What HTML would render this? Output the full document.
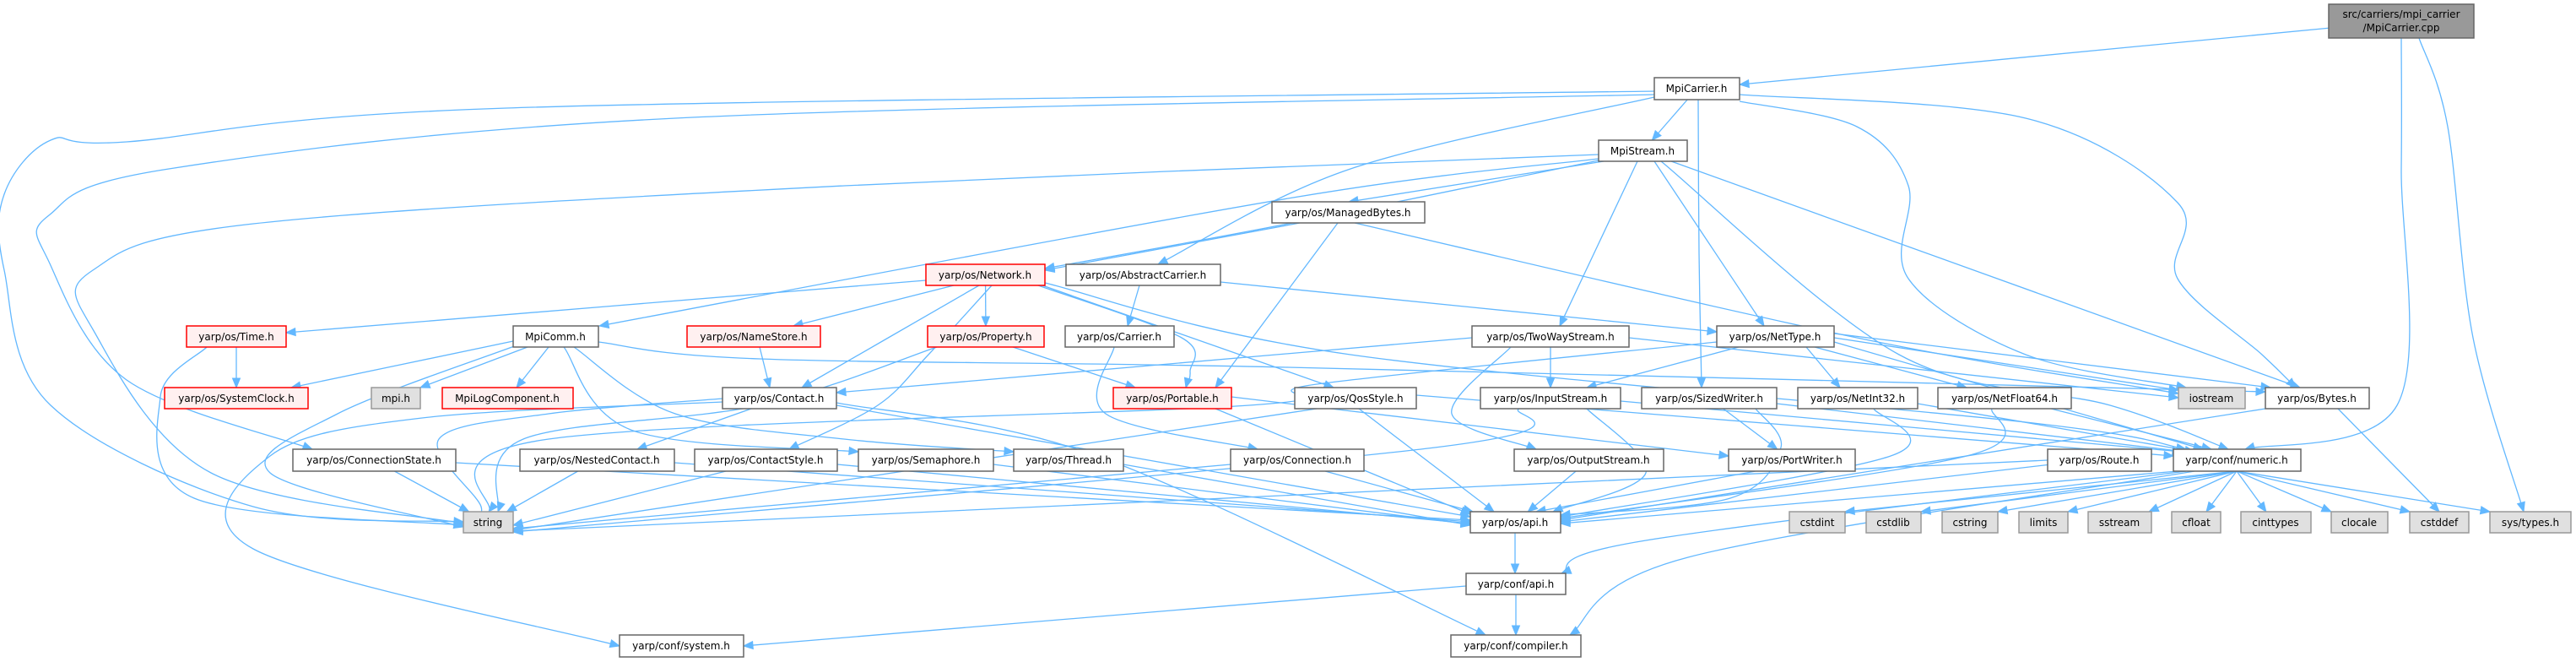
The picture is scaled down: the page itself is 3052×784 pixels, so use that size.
<!DOCTYPE html>
<html><head><meta charset="utf-8">
<style>
html,body{margin:0;padding:0;background:#fff;}
svg{display:block;}
text{font-family:"DejaVu Sans","Liberation Sans",sans-serif;font-size:12px;fill:#000;text-anchor:middle;}
.w{fill:#fff;stroke:#666;stroke-width:1.5}
.r{fill:#fff0f0;stroke:#ff0000;stroke-width:1.5}
.g{fill:#e0e0e0;stroke:#999;stroke-width:1.5}
.d{fill:#999;stroke:#666;stroke-width:1.5}
</style></head>
<body>
<svg id="s" width="3052" height="784" viewBox="0 0 3052 784" xmlns="http://www.w3.org/2000/svg">
<g id="edges" fill="none" stroke="#63b8ff" stroke-width="1.3"></g>
<g id="arrows" fill="#63b8ff" stroke="#63b8ff"></g>
<g id="nodes">
<rect class="d" x="2759" y="5" width="172" height="40"/><text x="2845" y="21">src/carriers/mpi_carrier</text><text x="2845" y="37">/MpiCarrier.cpp</text>
<rect class="w" x="1960" y="92" width="101" height="26"/><text x="2010" y="109">MpiCarrier.h</text>
<rect class="w" x="1894" y="166" width="105" height="25"/><text x="1946" y="183">MpiStream.h</text>
<rect class="w" x="1507" y="239" width="181" height="25"/><text x="1597" y="256">yarp/os/ManagedBytes.h</text>
<rect class="r" x="1097" y="313" width="141" height="25"/><text x="1167" y="330">yarp/os/Network.h</text>
<rect class="w" x="1263" y="313" width="183" height="25"/><text x="1354" y="330">yarp/os/AbstractCarrier.h</text>
<rect class="r" x="221" y="386" width="118" height="25"/><text x="280" y="403">yarp/os/Time.h</text>
<rect class="w" x="608" y="386" width="101" height="25"/><text x="658" y="403">MpiComm.h</text>
<rect class="r" x="814" y="386" width="158" height="25"/><text x="893" y="403">yarp/os/NameStore.h</text>
<rect class="r" x="1099" y="386" width="138" height="25"/><text x="1168" y="403">yarp/os/Property.h</text>
<rect class="w" x="1262" y="386" width="129" height="25"/><text x="1326" y="403">yarp/os/Carrier.h</text>
<rect class="w" x="1744" y="386" width="186" height="25"/><text x="1837" y="403">yarp/os/TwoWayStream.h</text>
<rect class="w" x="2034" y="386" width="139" height="25"/><text x="2103" y="403">yarp/os/NetType.h</text>
<rect class="r" x="195" y="459" width="170" height="25"/><text x="280" y="476">yarp/os/SystemClock.h</text>
<rect class="g" x="440" y="459" width="58" height="25"/><text x="469" y="476">mpi.h</text>
<rect class="r" x="524" y="459" width="155" height="25"/><text x="601" y="476">MpiLogComponent.h</text>
<rect class="w" x="856" y="459" width="135" height="25"/><text x="923" y="476">yarp/os/Contact.h</text>
<rect class="r" x="1319" y="459" width="140" height="25"/><text x="1389" y="476">yarp/os/Portable.h</text>
<rect class="w" x="1534" y="459" width="144" height="25"/><text x="1606" y="476">yarp/os/QosStyle.h</text>
<rect class="w" x="1754" y="459" width="166" height="25"/><text x="1837" y="476">yarp/os/InputStream.h</text>
<rect class="w" x="1945" y="459" width="160" height="25"/><text x="2025" y="476">yarp/os/SizedWriter.h</text>
<rect class="w" x="2130" y="459" width="142" height="25"/><text x="2201" y="476">yarp/os/NetInt32.h</text>
<rect class="w" x="2296" y="459" width="158" height="25"/><text x="2375" y="476">yarp/os/NetFloat64.h</text>
<rect class="g" x="2581" y="459" width="79" height="25"/><text x="2620" y="476">iostream</text>
<rect class="w" x="2684" y="459" width="123" height="25"/><text x="2745" y="476">yarp/os/Bytes.h</text>
<rect class="w" x="347" y="532" width="193" height="26"/><text x="443" y="549">yarp/os/ConnectionState.h</text>
<rect class="w" x="616" y="532" width="183" height="26"/><text x="707" y="549">yarp/os/NestedContact.h</text>
<rect class="w" x="823" y="532" width="169" height="26"/><text x="907" y="549">yarp/os/ContactStyle.h</text>
<rect class="w" x="1017" y="532" width="160" height="26"/><text x="1097" y="549">yarp/os/Semaphore.h</text>
<rect class="w" x="1201" y="532" width="130" height="26"/><text x="1266" y="549">yarp/os/Thread.h</text>
<rect class="w" x="1458" y="532" width="158" height="26"/><text x="1537" y="549">yarp/os/Connection.h</text>
<rect class="w" x="1794" y="532" width="177" height="26"/><text x="1882" y="549">yarp/os/OutputStream.h</text>
<rect class="w" x="2048" y="532" width="150" height="26"/><text x="2123" y="549">yarp/os/PortWriter.h</text>
<rect class="w" x="2426" y="532" width="123" height="26"/><text x="2487" y="549">yarp/os/Route.h</text>
<rect class="w" x="2575" y="532" width="151" height="26"/><text x="2650" y="549">yarp/conf/numeric.h</text>
<rect class="g" x="549" y="606" width="59" height="25"/><text x="578" y="623">string</text>
<rect class="w" x="1742" y="606" width="107" height="25"/><text x="1795" y="623">yarp/os/api.h</text>
<rect class="g" x="2120" y="606" width="66" height="25"/><text x="2153" y="623">cstdint</text>
<rect class="g" x="2211" y="606" width="65" height="25"/><text x="2243" y="623">cstdlib</text>
<rect class="g" x="2301" y="606" width="66" height="25"/><text x="2334" y="623">cstring</text>
<rect class="g" x="2392" y="606" width="58" height="25"/><text x="2421" y="623">limits</text>
<rect class="g" x="2474" y="606" width="75" height="25"/><text x="2511" y="623">sstream</text>
<rect class="g" x="2573" y="606" width="58" height="25"/><text x="2602" y="623">cfloat</text>
<rect class="g" x="2655" y="606" width="83" height="25"/><text x="2696" y="623">cinttypes</text>
<rect class="g" x="2762" y="606" width="67" height="25"/><text x="2795" y="623">clocale</text>
<rect class="g" x="2855" y="606" width="70" height="25"/><text x="2890" y="623">cstddef</text>
<rect class="g" x="2950" y="606" width="96" height="25"/><text x="2998" y="623">sys/types.h</text>
<rect class="w" x="1737" y="679" width="118" height="25"/><text x="1796" y="696">yarp/conf/api.h</text>
<rect class="w" x="734" y="752" width="147" height="26"/><text x="807" y="769">yarp/conf/system.h</text>
<rect class="w" x="1719" y="752" width="154" height="26"/><text x="1796" y="769">yarp/conf/compiler.h</text>
</g>
</svg>
<script>
var B={cpp:[2759,5,2931,45],mc:[1960,92,2061,118],ms:[1894,166,1999,191],mb:[1507,239,1688,264],
net:[1097,313,1238,338],ac:[1263,313,1446,338],time:[221,386,339,411],comm:[608,386,709,411],
ns:[814,386,972,411],prop:[1099,386,1237,411],car:[1262,386,1391,411],tw:[1744,386,1930,411],
nt:[2034,386,2173,411],sc:[195,459,365,484],mpi:[440,459,498,484],log:[524,459,679,484],
con:[856,459,991,484],por:[1319,459,1459,484],qos:[1534,459,1678,484],is:[1754,459,1920,484],
sw:[1945,459,2105,484],i32:[2130,459,2272,484],f64:[2296,459,2454,484],ios:[2581,459,2660,484],
by:[2684,459,2807,484],cs:[347,532,540,558],nc:[616,532,799,558],cst:[823,532,992,558],
sem:[1017,532,1177,558],thr:[1201,532,1331,558],conn:[1458,532,1616,558],os:[1794,532,1971,558],
pw:[2048,532,2198,558],rt:[2426,532,2549,558],num:[2575,532,2726,558],str:[549,606,608,631],
api:[1742,606,1849,631],cstdint:[2120,606,2186,631],cstdlib:[2211,606,2276,631],cstring:[2301,606,2367,631],
limits:[2392,606,2450,631],sstream:[2474,606,2549,631],cfloat:[2573,606,2631,631],cinttypes:[2655,606,2738,631],
clocale:[2762,606,2829,631],cstddef:[2855,606,2925,631],sys:[2950,606,3046,631],capi:[1737,679,1855,704],
sysh:[734,752,881,778],comp:[1719,752,1873,778]};
function c(b){return[(b[0]+b[2])/2,(b[1]+b[3])/2];}
function clip(b,from){var p=c(b),dx=from[0]-p[0],dy=from[1]-p[1];var hw=(b[2]-b[0])/2,hh=(b[3]-b[1])/2;
var t=Math.min(dx?hw/Math.abs(dx):1e9,dy?hh/Math.abs(dy):1e9);return[p[0]+dx*t,p[1]+dy*t];}
var E=document.getElementById('edges'),A=document.getElementById('arrows');var NS='http://www.w3.org/2000/svg';
function draw(pts){var d='M'+pts[0][0]+','+pts[0][1];var n=pts.length;var lastC=pts[0];
for(var i=0;i<n-1;i++){var p0=pts[i-1]||pts[i],p1=pts[i],p2=pts[i+1],p3=pts[i+2]||p2;
var c1=[p1[0]+(p2[0]-p0[0])/6,p1[1]+(p2[1]-p0[1])/6],c2=[p2[0]-(p3[0]-p1[0])/6,p2[1]-(p3[1]-p1[1])/6];
d+=' C'+c1+' '+c2+' '+p2;lastC=c2;}
var end=pts[n-1];var dx=end[0]-lastC[0],dy=end[1]-lastC[1];var L=Math.hypot(dx,dy)||1;dx/=L;dy/=L;
var bx=end[0]-dx*11,by=end[1]-dy*11;
// shorten path end
var pe=document.createElementNS(NS,'path');pe.setAttribute('d',d);E.appendChild(pe);
var ah=document.createElementNS(NS,'polygon');
ah.setAttribute('points',end[0]+','+end[1]+' '+(bx-dy*4.5)+','+(by+dx*4.5)+' '+(bx+dy*4.5)+','+(by-dx*4.5));A.appendChild(ah);}
function e(s,t,mid,so,to){var bs=B[s],bt=B[t];mid=mid||[];
var ref1=mid.length?mid[0]:c(bt);var ref2=mid.length?mid[mid.length-1]:c(bs);
var p0=so?[so[0],so[1]]:clip(bs,ref1);var p1=to?[to[0],to[1]]:clip(bt,ref2);
draw([p0].concat(mid,[p1]));}
// top
e('cpp','mc');e('cpp','num',[[2845,200],[2840,480]],[2845,45],[2660,532]);
e('cpp','sys',[[2900,150],[2930,400]],[2866,45],[2990,606]);
e('mc','str',[[600,128],[150,168],[60,166],[5,230],[5,320],[60,480],[300,600]],[1960,108],[549,618]);
e('mc','cs',[[800,140],[200,200],[58,255],[58,310],[150,450]],[1960,112],[370,532]);
e('mc','ac',[[1600,200]],[1960,115],[1372,313]);
e('mc','ms');e('mc','sw',[[2013,300]],[2012,118],[2016,459]);
e('mc','ios',[[2200,150],[2261,220],[2261,330],[2400,420]],[2061,120],[2590,459]);
e('mc','by',[[2400,140],[2580,240],[2580,330],[2680,420]],[2061,112],[2720,459]);
e('ms','str',[[1000,220],[300,265],[110,320],[110,390],[250,560]],[1894,183],[549,620]);
e('ms','comm',[[1526,235]],[1894,188],[710,386]);
e('ms','mb',null,[1900,191],[1598,239]);
e('ms','net',[[1526,265]],[1894,190],[1238,318]);
e('ms','tw',null,[1940,191],[1848,386]);
e('ms','nt',null,[1960,191],[2090,386]);
e('ms','num',[[2250,420],[2500,480]],[1968,191],[2640,532]);
e('ms','by',null,[1980,191],[2725,459]);
e('mb','net',null,[1540,264],[1238,320]);
e('mb','por',null,[1585,264],[1440,459]);
e('mb','ios',[[2200,400]],[1605,264],[2581,466]);
// network
e('net','time',null,[1097,332],[339,394]);
e('net','ns',null,[1130,338],[940,386]);
e('net','prop');e('net','con',null,[1160,338],[950,459]);
e('net','cst',[[1100,420],[1040,480]],[1175,338],[935,532]);
e('net','por',[[1400,400],[1410,440]],[1230,338],[1405,459]);
e('net','qos',null,[1235,338],[1580,459]);
e('net','num',[[1600,420],[2400,500]],[1238,335],[2590,532]);
e('ac','car',null,[1350,338],[1336,386]);
e('ac','nt',null,[1446,334],[2034,393]);
e('car','conn',[[1310,490]],[1320,411],[1490,532]);
e('time','sc');e('time','str',[[190,470],[230,590]],[245,411],[549,622]);
e('comm','sc',null,[608,404],[345,459]);e('comm','mpi',null,[625,411],[498,459]);e('comm','log',null,[650,411],[612,459]);
e('comm','str',[[400,490],[320,560]],[612,409],[549,624]);
e('comm','sem',[[750,510]],[668,411],[1017,535]);e('comm','thr',[[800,490],[1000,520]],[680,411],[1201,535]);
e('comm','by',[[900,425],[1526,435]],[709,405],[2684,464]);
e('ns','con',null,[900,411],[912,459]);
e('prop','str',[[900,480],[620,520]],[1110,411],[590,606]);
e('prop','por',null,[1200,411],[1345,459]);
e('con','str',[[650,490],[520,520],[570,600]],[856,472],[549,616]);
e('con','nc',null,[890,484],[755,532]);
e('con','comp',[[1300,540]],[991,477],[1760,752]);
e('con','sysh',[[500,495],[320,540],[300,650]],[856,476],[734,765]);
e('con','api',null,[991,480],[1742,612]);
e('por','api',null,[1440,484],[1742,609]);e('por','pw',null,[1459,470],[2048,540]);
e('cs','str');e('cs','api',null,[540,548],[1742,616]);
e('nc','str');e('nc','api',null,[799,548],[1742,618]);
e('cst','str',null,[860,558],[608,622]);e('cst','api',null,[992,550],[1742,620]);
e('sem','api',null,[1177,550],[1742,621]);e('thr','api',null,[1331,550],[1742,622]);
e('conn','str',null,[1458,550],[608,626]);e('conn','api',null,[1570,558],[1745,606]);
e('tw','con',null,[1744,400],[991,465]);e('tw','is',null,[1837,411],[1837,459]);
e('tw','os',[[1720,490]],[1790,411],[1820,532]);e('tw','ios',null,[1930,400],[2581,471]);
e('nt','str',[[1560,455],[1480,480],[650,520]],[2034,405],[579,606]);
e('nt','is',null,[2060,411],[1880,459]);e('nt','i32',null,[2140,411],[2180,459]);
e('nt','f64',null,[2150,411],[2330,459]);e('nt','by',null,[2173,395],[2690,459]);
e('nt','ios',null,[2173,400],[2581,462]);e('nt','num',null,[2173,405],[2610,532]);
e('qos','str',null,[1560,484],[608,628]);e('qos','api',null,[1610,484],[1770,606]);e('qos','num',null,[1678,468],[2575,540]);
e('is','str',[[1700,530]],[1800,484],[608,630]);e('is','api',[[1950,560]],[1880,484],[1840,606]);e('is','num',null,[1920,475],[2585,535]);
e('sw','pw');e('sw','api',[[2110,530],[2050,590]],[2080,484],[1849,610]);e('sw','num',null,[2105,478],[2590,535]);
e('i32','api',[[2240,540]],[2220,484],[1849,612]);e('i32','num',null,[2272,478],[2600,535]);
e('f64','api',[[2330,540]],[2360,484],[1849,614]);e('f64','num',null,[2430,484],[2620,532]);
e('by','api',null,[2684,484],[1849,616]);e('by','cstddef',null,[2770,484],[2890,606]);
e('os','api');e('pw','api',null,[2080,558],[1820,606]);
e('rt','str',null,[2426,545],[608,629]);e('rt','api',null,[2430,550],[1849,618]);
e('num','api',null,[2580,558],[1849,620]);
['cstdint','cstdlib','cstring','limits','sstream','cfloat','cinttypes','clocale','cstddef','sys'].forEach(function(k){var b=B[k];e('num',k,null,[2650,558],[Math.min(b[2],Math.max(b[0],(b[0]+b[2])/2+(2650-(b[0]+b[2])/2)*0.25)),b[1]]);});
e('num','capi',[[1950,640]],[2590,558],[1850,679]);
e('num','comp',[[2000,660]],[2600,558],[1860,752]);
e('api','capi',null,[1795,631],[1795,679]);
e('capi','comp',null,[1796,704],[1796,752]);e('capi','sysh',null,[1737,694],[881,765]);
</script>
</body></html>
